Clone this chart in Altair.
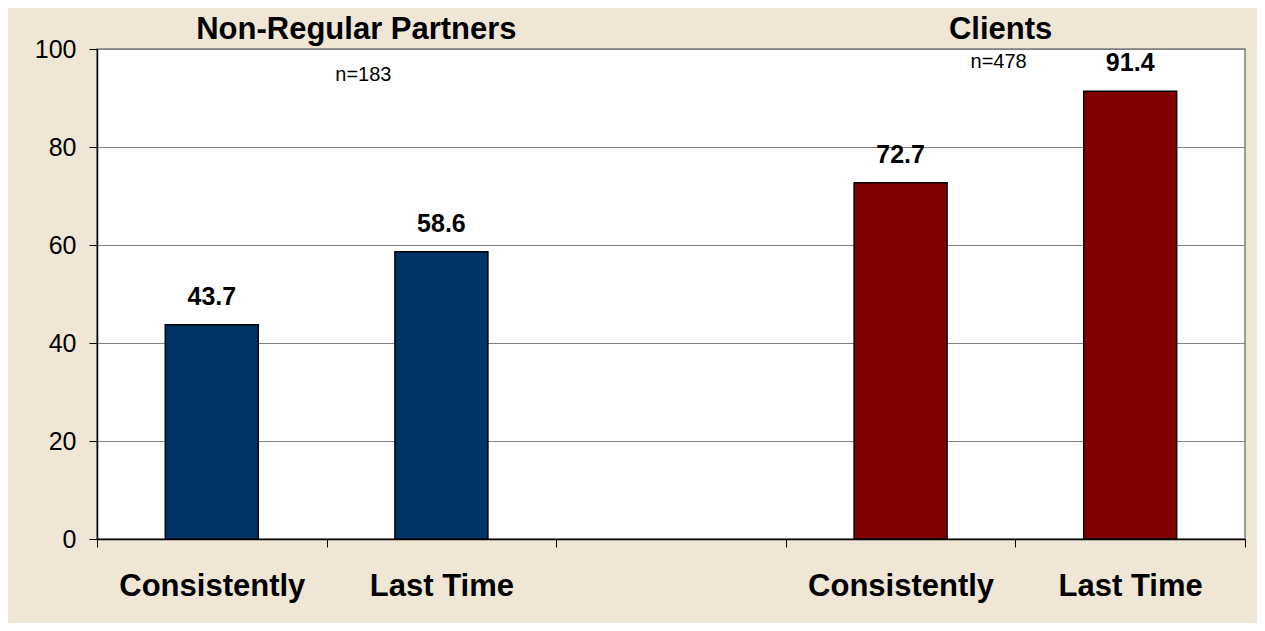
import altair as alt
import pandas as pd

slots = ["NC", "NL", "GAP", "CC", "CL"]
slot_labels = ["Consistently", "Last Time", "", "Consistently", "Last Time"]
bar_slots = ["NC", "NL", "CC", "CL"]
bar_values = [43.7, 58.6, 72.7, 91.4]
bar_groups = ["Non-Regular Partners", "Non-Regular Partners", "Clients", "Clients"]
group_colors = ["#003366", "#800000"]
group_names = ["Non-Regular Partners", "Clients"]

titles = ["Non-Regular Partners", "Clients"]
title_slots = ["NL", "CC"]
title_dx = [-85, 100]
n_texts = ["n=183", "n=478"]
n_slots = ["NL", "CC"]
n_y = [94.7, 97.3]
n_dx = [-78, 98]

bars = pd.DataFrame({"slot": bar_slots, "value": bar_values, "group": bar_groups})

label_map = {s: l for s, l in zip(slots, slot_labels)}
label_expr = " : ".join(
    [f"datum.value == '{s}' ? '{l}'" for s, l in label_map.items()]
) + " : ''"

xscale = alt.Scale(domain=slots, paddingInner=0, paddingOuter=0)
yscale = alt.Scale(domain=[0, 100])

base = alt.Chart(bars)

bar_layer = base.mark_bar(size=93, stroke="black", strokeWidth=1.5).encode(
    x=alt.X("slot:N", scale=xscale, sort=slots,
            axis=alt.Axis(title=None, labelExpr=label_expr, labelAngle=0,
                          labelFontSize=31, labelFontWeight="bold",
                          labelColor="black", labelFont="Liberation Sans",
                          labelPadding=24, labelLimit=500, tickBand="extent",
                          tickSize=8, tickColor="black", domainColor="black",
                          domainWidth=1.5, grid=False)),
    y=alt.Y("value:Q", scale=yscale,
            axis=alt.Axis(title=None, values=[0, 20, 40, 60, 80, 100],
                          labelFontSize=25, labelColor="black",
                          labelFont="Liberation Sans", labelPadding=13,
                          tickSize=8, tickColor="black", domainColor="black",
                          domainWidth=1.5, gridColor="#808080",
                          gridWidth=1)),
    color=alt.Color("group:N", scale=alt.Scale(domain=group_names, range=group_colors),
                    legend=None),
)

value_layer = base.mark_text(fontSize=25, fontWeight="bold", font="Liberation Sans",
                             dy=-28, color="black").encode(
    x=alt.X("slot:N", scale=xscale, sort=slots),
    y=alt.Y("value:Q", scale=yscale),
    text=alt.Text("value:Q", format=".1f"),
)

layers = [bar_layer, value_layer]
for t, s, d in zip(titles, title_slots, title_dx):
    layers.append(
        alt.Chart(pd.DataFrame({"slot": [s], "text": [t]})).mark_text(
            fontSize=31, fontWeight="bold", font="Liberation Sans",
            color="black", dx=d).encode(
            x=alt.X("slot:N", scale=xscale, sort=slots),
            y=alt.value(-19),
            text="text:N",
        )
    )
for t, s, yv, d in zip(n_texts, n_slots, n_y, n_dx):
    layers.append(
        alt.Chart(pd.DataFrame({"slot": [s], "text": [t], "y": [yv]})).mark_text(
            fontSize=20, font="Liberation Sans", color="black", dx=d).encode(
            x=alt.X("slot:N", scale=xscale, sort=slots),
            y=alt.Y("y:Q", scale=yscale),
            text="text:N",
        )
    )

chart = alt.layer(*layers).properties(
    width=1148, height=490,
    background="#EFE6D5",
    autosize=alt.AutoSizeParams(type="none"),
    padding={"left": 89, "top": 41, "right": 12, "bottom": 84},
).configure_view(
    fill="white", stroke="#808080", strokeWidth=1.5
)

chart.save("out.html", embed_options={"renderer": "svg", "actions": False})
